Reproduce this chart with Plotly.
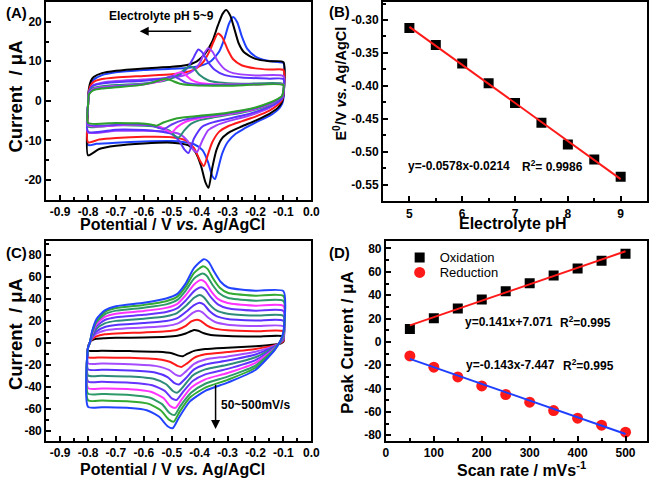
import plotly.graph_objects as go

W, H = 661, 480
FONT = "Liberation Sans, Arial, Helvetica, sans-serif"

# ---------------- Panel A : CVs at different pH (V, I in uA) ----------------
A_LABELS = ["pH 5", "pH 5.5", "pH 6", "pH 6.5", "pH 7", "pH 7.5", "pH 8", "pH 8.5", "pH 9"]
A_COLORS = ["#2040FF", "#000000", "#FF1A1A", "#A040FF", "#5A32FF",
            "#2A8C74", "#FF33FF", "#6A3CF0", "#2DA02D"]

A_PH50 = [(-0.8, -0.5), (-0.797, 2.5), (-0.79, 4.2), (-0.78, 5.3), (-0.75, 6.5), (-0.7, 7.2),
          (-0.6, 7.8), (-0.5, 8.1), (-0.45, 8.3), (-0.4, 8.8), (-0.36, 10), (-0.33, 12.5),
          (-0.31, 16), (-0.295, 19.5), (-0.28, 21.2), (-0.265, 19.8), (-0.25, 16.5),
          (-0.23, 13.2), (-0.2, 11.2), (-0.16, 10.2), (-0.12, 9.8), (-0.1, 9.6),
          (-0.1, 0.5), (-0.105, -0.8), (-0.12, -2.3), (-0.15, -3.8), (-0.2, -5.5),
          (-0.24, -7), (-0.27, -8.3), (-0.3, -10.5), (-0.32, -13.5), (-0.335, -17.5),
          (-0.345, -19.8), (-0.355, -19), (-0.37, -15.5), (-0.39, -12.5), (-0.42, -11),
          (-0.46, -10.4), (-0.5, -10.2), (-0.6, -10.3), (-0.7, -10.6), (-0.77, -10.9),
          (-0.8, -11.2)]
A_PH55 = [(-0.8, -1), (-0.797, 3), (-0.79, 5), (-0.78, 6), (-0.75, 7), (-0.7, 7.6),
          (-0.6, 8.2), (-0.5, 8.6), (-0.45, 9.0), (-0.41, 10), (-0.38, 12), (-0.355, 15),
          (-0.335, 19), (-0.318, 22), (-0.305, 23), (-0.29, 21.5), (-0.275, 18),
          (-0.26, 14.5), (-0.24, 12.2), (-0.2, 10.6), (-0.15, 10), (-0.1, 9.8),
          (-0.1, 1.2), (-0.105, -0.3), (-0.12, -1.8), (-0.15, -3.3), (-0.2, -5),
          (-0.25, -6.5), (-0.29, -7.8), (-0.32, -9.5), (-0.34, -12.5), (-0.355, -17),
          (-0.368, -22), (-0.38, -20.5), (-0.395, -16.5), (-0.415, -13), (-0.44, -11.3),
          (-0.5, -10.6), (-0.6, -10.8), (-0.7, -11.4), (-0.76, -12.2), (-0.8, -13.8)]
A_PH60 = [(-0.8, -1), (-0.797, 2.5), (-0.79, 4), (-0.78, 4.8), (-0.75, 5.5), (-0.7, 5.9),
          (-0.6, 6.3), (-0.5, 6.7), (-0.45, 7.2), (-0.41, 8.3), (-0.385, 10), (-0.365, 12.5),
          (-0.35, 15), (-0.335, 17), (-0.32, 16.2), (-0.3, 13), (-0.28, 10.5), (-0.25, 9),
          (-0.2, 8.2), (-0.15, 7.9), (-0.1, 7.8),
          (-0.1, 1.5), (-0.105, 0.2), (-0.12, -1), (-0.15, -2.5), (-0.2, -4), (-0.25, -5.2),
          (-0.3, -6.5), (-0.33, -7.8), (-0.355, -10.5), (-0.37, -13.5), (-0.385, -16.5),
          (-0.4, -15), (-0.42, -12), (-0.45, -10), (-0.5, -9.2), (-0.6, -9.1), (-0.7, -9.4),
          (-0.76, -9.8), (-0.8, -10.5)]
A_PH65 = [(-0.8, -1), (-0.797, 2), (-0.79, 3.3), (-0.78, 4), (-0.75, 4.6), (-0.7, 5),
          (-0.6, 5.4), (-0.5, 5.9), (-0.45, 6.6), (-0.42, 7.8), (-0.4, 9.5), (-0.385, 11.8),
          (-0.37, 13.3), (-0.355, 12.5), (-0.335, 10), (-0.31, 8), (-0.28, 7), (-0.2, 6.4),
          (-0.1, 6.2),
          (-0.1, 1.8), (-0.105, 0.5), (-0.12, -0.5), (-0.15, -1.8), (-0.2, -3.2),
          (-0.25, -4.3), (-0.3, -5.2), (-0.34, -6.2), (-0.37, -7.5), (-0.39, -10),
          (-0.41, -13), (-0.425, -12.2), (-0.445, -10), (-0.47, -8.5), (-0.52, -7.8),
          (-0.6, -7.6), (-0.7, -7.6), (-0.8, -8)]
A_PH70 = [(-0.8, -1), (-0.797, 2), (-0.79, 3.2), (-0.78, 3.9), (-0.75, 4.4), (-0.7, 4.7),
          (-0.6, 5.1), (-0.52, 5.7), (-0.47, 6.7), (-0.445, 8.2), (-0.425, 10.5),
          (-0.405, 13), (-0.39, 12.2), (-0.37, 9.8), (-0.345, 7.8), (-0.31, 6.5),
          (-0.25, 5.9), (-0.15, 5.6), (-0.1, 5.5),
          (-0.1, 2), (-0.105, 0.6), (-0.12, -0.3), (-0.15, -1.5), (-0.2, -2.8),
          (-0.25, -3.8), (-0.3, -4.6), (-0.35, -5.4), (-0.39, -6.5), (-0.42, -9.5),
          (-0.44, -13.2), (-0.455, -12.3), (-0.475, -10), (-0.5, -8.4), (-0.55, -7.7),
          (-0.6, -7.4), (-0.7, -7.3), (-0.8, -7.8)]
A_PH75 = [(-0.8, -1), (-0.797, 1.8), (-0.79, 2.8), (-0.78, 3.3), (-0.75, 3.7), (-0.7, 4),
          (-0.6, 4.4), (-0.53, 5), (-0.49, 6), (-0.46, 7.6), (-0.435, 8.8), (-0.42, 8.2),
          (-0.4, 6.5), (-0.37, 5.2), (-0.33, 4.6), (-0.25, 4.3), (-0.1, 4.3),
          (-0.1, 2.5), (-0.105, 1), (-0.12, 0.2), (-0.15, -1), (-0.2, -2.2), (-0.25, -3),
          (-0.3, -3.6), (-0.35, -4.2), (-0.4, -4.9), (-0.43, -5.8), (-0.455, -7.5),
          (-0.475, -9.3), (-0.49, -8.8), (-0.51, -7.5), (-0.55, -6.6), (-0.6, -6.3),
          (-0.7, -6.2), (-0.8, -6.5)]
A_PH80 = [(-0.8, -1), (-0.797, 1.6), (-0.79, 2.5), (-0.78, 3), (-0.75, 3.4), (-0.7, 3.7),
          (-0.6, 4.2), (-0.54, 5), (-0.5, 6.2), (-0.48, 7), (-0.465, 7.2), (-0.45, 6.5),
          (-0.43, 5.3), (-0.4, 4.5), (-0.35, 4.2), (-0.2, 4.1), (-0.1, 4.1),
          (-0.1, 2.5), (-0.105, 1), (-0.12, 0.3), (-0.15, -0.8), (-0.2, -2), (-0.25, -2.8),
          (-0.3, -3.4), (-0.35, -3.9), (-0.4, -4.4), (-0.45, -5.3), (-0.48, -6.6),
          (-0.5, -8), (-0.515, -7.6), (-0.535, -6.8), (-0.57, -6.2), (-0.65, -6),
          (-0.8, -6.2)]
A_PH85 = [(-0.8, -1), (-0.797, 1.6), (-0.79, 2.4), (-0.78, 2.9), (-0.75, 3.3), (-0.7, 3.6),
          (-0.6, 4.2), (-0.55, 5), (-0.52, 5.8), (-0.495, 6.3), (-0.475, 5.6), (-0.45, 4.6),
          (-0.4, 4.1), (-0.3, 4), (-0.1, 4),
          (-0.1, 2.5), (-0.105, 1), (-0.12, 0.3), (-0.15, -0.7), (-0.2, -1.9), (-0.3, -3.2),
          (-0.4, -4.1), (-0.46, -4.9), (-0.5, -6), (-0.53, -7.2), (-0.55, -6.8),
          (-0.58, -6.2), (-0.65, -5.9), (-0.8, -6)]
A_PH90 = [(-0.8, -1), (-0.797, 1.5), (-0.79, 2.2), (-0.78, 2.7), (-0.75, 3.1), (-0.7, 3.4),
          (-0.62, 3.9), (-0.57, 4.6), (-0.54, 5.3), (-0.52, 5.6), (-0.5, 5.1), (-0.47, 4.3),
          (-0.42, 3.9), (-0.3, 3.8), (-0.1, 4),
          (-0.1, 2.8), (-0.105, 1.2), (-0.12, 0.5), (-0.15, -0.5), (-0.2, -1.7), (-0.3, -3),
          (-0.4, -3.8), (-0.48, -4.4), (-0.53, -5.5), (-0.555, -6.3), (-0.575, -6),
          (-0.62, -5.7), (-0.7, -5.6), (-0.8, -5.6)]
A_CURVES = [A_PH50, A_PH55, A_PH60, A_PH65, A_PH70, A_PH75, A_PH80, A_PH85, A_PH90]

# ---------------- Panel B : E0 vs pH ----------------
B_PH = [5, 5.5, 6, 6.5, 7, 7.5, 8, 8.5, 9]
B_E0 = [-0.312, -0.338, -0.366, -0.396, -0.426, -0.456, -0.489, -0.512, -0.538]
B_FIT_X = [5, 9]
B_FIT_Y = [-0.3104, -0.5416]

# ---------------- Panel C : CVs at different scan rates ----------------
C_LABELS = ["50", "100", "150", "200", "250", "300", "350", "400", "450", "500"]
C_COLORS = ["#000000", "#FF1A1A", "#A64CFF", "#5A32FF", "#2E8B7A",
            "#6633FF", "#FF33FF", "#2E9A6A", "#33AA33", "#2244FF"]

C_050 = [(-0.8, -4), (-0.795, 0), (-0.785, 2.5), (-0.77, 3.8), (-0.74, 4.3), (-0.7, 4.6),
         (-0.6, 5), (-0.52, 5.6), (-0.48, 6.5), (-0.45, 8.5), (-0.43, 10.8), (-0.42, 11.7),
         (-0.405, 11), (-0.385, 8.8), (-0.36, 7.2), (-0.3, 6.2), (-0.2, 5.8), (-0.1, 6),
         (-0.1, 1), (-0.11, -0.5), (-0.13, -1.5), (-0.2, -3), (-0.3, -4.3), (-0.38, -5.5),
         (-0.42, -7.2), (-0.445, -10), (-0.46, -12), (-0.475, -11.5), (-0.5, -9.3),
         (-0.55, -8), (-0.65, -7.4), (-0.75, -7.1), (-0.8, -7)]
C_100 = [(-0.8, -4), (-0.794, 0), (-0.785, 3.5), (-0.77, 6), (-0.74, 7.8), (-0.7, 8.6),
         (-0.6, 9.5), (-0.52, 10.5), (-0.48, 12), (-0.45, 15.5), (-0.43, 19.5), (-0.41, 21),
         (-0.395, 19.8), (-0.375, 16), (-0.35, 13.2), (-0.3, 11.5), (-0.2, 10.6), (-0.1, 10.5),
         (-0.1, 2), (-0.11, 0), (-0.13, -2), (-0.2, -5.5), (-0.3, -8.3), (-0.38, -10.3),
         (-0.42, -13.5), (-0.445, -18.5), (-0.465, -21.7), (-0.48, -20.8), (-0.505, -17.3),
         (-0.55, -14.8), (-0.65, -13.5), (-0.75, -13.1), (-0.8, -13)]
C_150 = [(-0.8, -4), (-0.794, 0), (-0.785, 4.5), (-0.77, 8.3), (-0.74, 11.3), (-0.7, 12.6),
         (-0.6, 14), (-0.52, 15.4), (-0.48, 17.5), (-0.45, 22), (-0.425, 27.3), (-0.405, 29.3),
         (-0.39, 27.8), (-0.37, 23), (-0.345, 19), (-0.3, 16.6), (-0.2, 15.3), (-0.1, 15),
         (-0.1, 3), (-0.11, 0.5), (-0.13, -2.5), (-0.2, -8), (-0.3, -12.2), (-0.38, -15),
         (-0.42, -19), (-0.45, -26), (-0.47, -30), (-0.485, -29), (-0.51, -24.5),
         (-0.56, -20.8), (-0.65, -19.3), (-0.75, -18.7), (-0.8, -18.5)]
C_200 = [(-0.8, -4), (-0.794, 0), (-0.785, 5.5), (-0.77, 10.5), (-0.74, 14.5), (-0.7, 16.3),
         (-0.6, 18), (-0.52, 19.8), (-0.48, 22.5), (-0.45, 28), (-0.42, 34.3), (-0.4, 36.5),
         (-0.385, 34.8), (-0.365, 29), (-0.34, 24.3), (-0.3, 21.7), (-0.2, 20.3), (-0.1, 20),
         (-0.1, 4), (-0.11, 0.8), (-0.13, -3), (-0.2, -10.5), (-0.3, -16), (-0.38, -19.5),
         (-0.42, -24), (-0.45, -32), (-0.475, -37.7), (-0.49, -36.5), (-0.515, -31),
         (-0.56, -26.8), (-0.65, -25), (-0.75, -24.3), (-0.8, -24)]
C_250 = [(-0.8, -4), (-0.794, 0), (-0.785, 6.5), (-0.77, 12.8), (-0.74, 17.8), (-0.7, 20),
         (-0.6, 22), (-0.52, 24.2), (-0.48, 27.3), (-0.45, 33.5), (-0.42, 41), (-0.4, 43.5),
         (-0.385, 41.5), (-0.365, 35), (-0.34, 29.5), (-0.3, 26.5), (-0.2, 24.8), (-0.1, 24.5),
         (-0.1, 5), (-0.11, 1), (-0.13, -3.5), (-0.2, -13), (-0.3, -19.8), (-0.38, -24),
         (-0.425, -29.5), (-0.455, -38.5), (-0.48, -45), (-0.495, -43.8), (-0.52, -37.5),
         (-0.565, -32.5), (-0.65, -30.5), (-0.75, -29.8), (-0.8, -29.5)]
C_300 = [(-0.8, -4), (-0.794, 0), (-0.785, 7.5), (-0.77, 15), (-0.74, 20.8), (-0.7, 23.3),
         (-0.6, 25.5), (-0.52, 28), (-0.48, 31.5), (-0.45, 38.5), (-0.42, 47), (-0.395, 50.5),
         (-0.38, 48.5), (-0.36, 41.5), (-0.335, 35), (-0.3, 31.5), (-0.2, 29.3), (-0.1, 29),
         (-0.1, 6), (-0.11, 1.2), (-0.13, -4), (-0.2, -15.5), (-0.3, -23.5), (-0.38, -28.5),
         (-0.425, -34.5), (-0.46, -44.5), (-0.483, -51.7), (-0.5, -50.3), (-0.525, -43.5),
         (-0.57, -38.3), (-0.65, -36), (-0.75, -35.3), (-0.8, -35)]
C_350 = [(-0.8, -4), (-0.794, 0), (-0.785, 8.5), (-0.77, 17), (-0.74, 23.6), (-0.7, 26.5),
         (-0.6, 29), (-0.52, 31.8), (-0.48, 35.5), (-0.45, 43.3), (-0.42, 53), (-0.395, 57),
         (-0.38, 55), (-0.36, 47.3), (-0.335, 40), (-0.3, 36.2), (-0.2, 33.8), (-0.1, 33.5),
         (-0.1, 7), (-0.11, 1.5), (-0.13, -4.5), (-0.2, -18), (-0.3, -27.2), (-0.38, -33),
         (-0.43, -40.5), (-0.465, -51.5), (-0.487, -58.9), (-0.505, -57.3), (-0.53, -50),
         (-0.575, -44.3), (-0.65, -42), (-0.75, -41.3), (-0.8, -41)]
C_400 = [(-0.8, -4), (-0.794, 0), (-0.785, 9.5), (-0.77, 18.8), (-0.74, 26), (-0.7, 29.3),
         (-0.6, 32), (-0.52, 35), (-0.48, 39), (-0.45, 47.5), (-0.42, 58.5), (-0.39, 63),
         (-0.375, 61), (-0.355, 53), (-0.33, 45), (-0.3, 41), (-0.2, 38.3), (-0.1, 38),
         (-0.1, 8), (-0.11, 1.8), (-0.13, -5), (-0.2, -20.5), (-0.3, -30.5), (-0.38, -37),
         (-0.43, -45), (-0.47, -57.5), (-0.49, -65.4), (-0.508, -63.5), (-0.535, -55.5),
         (-0.58, -49.5), (-0.65, -47.2), (-0.75, -46.3), (-0.8, -46)]
C_450 = [(-0.8, -4), (-0.794, 0), (-0.785, 10.3), (-0.77, 20.3), (-0.74, 28), (-0.7, 31.6),
         (-0.6, 34.5), (-0.52, 37.8), (-0.48, 42), (-0.45, 51), (-0.42, 63.5), (-0.388, 69.5),
         (-0.372, 67.2), (-0.352, 58.5), (-0.328, 50), (-0.3, 45.5), (-0.2, 42.8), (-0.1, 42.5),
         (-0.1, 9), (-0.11, 2), (-0.13, -5.5), (-0.2, -22.5), (-0.3, -33.5), (-0.38, -40.5),
         (-0.435, -49.5), (-0.472, -62.5), (-0.493, -71.4), (-0.51, -69.5), (-0.54, -61),
         (-0.585, -55), (-0.65, -53), (-0.75, -52.3), (-0.8, -52)]
C_500 = [(-0.8, -4), (-0.794, 0), (-0.785, 11), (-0.77, 21.5), (-0.74, 29.5), (-0.7, 33.3),
         (-0.6, 36.5), (-0.52, 40.3), (-0.48, 44.5), (-0.45, 54), (-0.42, 68), (-0.385, 76),
         (-0.368, 73.5), (-0.348, 64.5), (-0.325, 55.5), (-0.3, 50.5), (-0.2, 47.3), (-0.1, 47),
         (-0.1, 10), (-0.11, 2.3), (-0.13, -6), (-0.2, -24.5), (-0.3, -36), (-0.38, -43.5),
         (-0.435, -53), (-0.475, -68), (-0.497, -77.4), (-0.515, -75.5), (-0.545, -67),
         (-0.59, -61), (-0.65, -59), (-0.75, -58.3), (-0.8, -58)]
C_CURVES = [C_050, C_100, C_150, C_200, C_250, C_300, C_350, C_400, C_450, C_500]

# ---------------- Panel D : peak current vs scan rate ----------------
D_RATE = [50, 100, 150, 200, 250, 300, 350, 400, 450, 500]
D_OX = [11.1, 20.3, 28.6, 36.3, 43.4, 50.3, 56.9, 62.9, 69.4, 75.4]
D_RED = [-12.0, -21.7, -30.0, -37.7, -45.1, -51.7, -58.9, -65.4, -71.4, -77.4]
D_FIT_X = [50, 500]
D_OX_FIT = [14.1, 77.6]
D_RED_FIT = [-14.6, -78.9]

# ---------------- tick labels ----------------
POT_TICKS = [-0.9, -0.8, -0.7, -0.6, -0.5, -0.4, -0.3, -0.2, -0.1, 0.0]
POT_TEXT = ["-0.9", "-0.8", "-0.7", "-0.6", "-0.5", "-0.4", "-0.3", "-0.2", "-0.1", "0.0"]
A_YTICKS = [-20, -10, 0, 10, 20]
A_YTEXT = ["-20", "-10", "0", "10", "20"]
B_XTICKS = [5, 6, 7, 8, 9]
B_XTEXT = ["5", "6", "7", "8", "9"]
B_YTICKS = [-0.55, -0.50, -0.45, -0.40, -0.35, -0.30]
B_YTEXT = ["-0.55", "-0.50", "-0.45", "-0.40", "-0.35", "-0.30"]
C_YTICKS = [-80, -60, -40, -20, 0, 20, 40, 60, 80]
C_YTEXT = ["-80", "-60", "-40", "-20", "0", "20", "40", "60", "80"]
D_XTICKS = [0, 100, 200, 300, 400, 500]
D_XTEXT = ["0", "100", "200", "300", "400", "500"]
D_YTICKS = [-80, -60, -40, -20, 0, 20, 40, 60, 80]
D_YTEXT = ["-80", "-60", "-40", "-20", "0", "20", "40", "60", "80"]


def px_x(p):
    return p / W


def px_y(p):
    return 1 - p / H


fig = go.Figure()


def add_loop(pts, color, name, xa, ya):
    xs = [p[0] for p in pts] + [pts[0][0]]
    ys = [p[1] for p in pts] + [pts[0][1]]
    fig.add_trace(go.Scatter(x=xs, y=ys, mode="lines", name=name, showlegend=False,
                             line=dict(color=color, width=2, shape="spline", smoothing=0.6),
                             xaxis=xa, yaxis=ya, hoverinfo="skip"))


for pts, col, nm in zip(A_CURVES, A_COLORS, A_LABELS):
    add_loop(pts, col, nm, "x", "y")

fig.add_trace(go.Scatter(x=B_PH, y=B_E0, mode="markers", showlegend=False,
                         marker=dict(symbol="square", size=10, color="black"),
                         xaxis="x2", yaxis="y2"))
fig.add_trace(go.Scatter(x=B_FIT_X, y=B_FIT_Y, mode="lines", showlegend=False,
                         line=dict(color="#FF1A1A", width=2), xaxis="x2", yaxis="y2"))

for pts, col, nm in zip(C_CURVES, C_COLORS, C_LABELS):
    add_loop(pts, col, nm, "x3", "y3")

fig.add_trace(go.Scatter(x=D_RATE, y=D_OX, mode="markers", name="Oxidation", legend="legend",
                         marker=dict(symbol="square", size=10, color="black"),
                         xaxis="x4", yaxis="y4"))
fig.add_trace(go.Scatter(x=D_RATE, y=D_RED, mode="markers", name="Reduction", legend="legend2",
                         marker=dict(symbol="circle", size=11, color="#FF1A1A"),
                         xaxis="x4", yaxis="y4"))
fig.add_trace(go.Scatter(x=D_FIT_X, y=D_OX_FIT, mode="lines", showlegend=False,
                         line=dict(color="#FF1A1A", width=2), xaxis="x4", yaxis="y4"))
fig.add_trace(go.Scatter(x=D_FIT_X, y=D_RED_FIT, mode="lines", showlegend=False,
                         line=dict(color="#1F3FFF", width=2), xaxis="x4", yaxis="y4"))

tickfont = dict(family=FONT, size=12, color="black")


def axis(domain, rng, tv, tt, anchor, mdt):
    return dict(domain=domain, range=rng, anchor=anchor, tickmode="array",
                tickvals=tv, ticktext=["<b>%s</b>" % t for t in tt], ticks="inside",
                ticklen=5, tickwidth=1.5,
                tickcolor="black", showline=True, linecolor="black", linewidth=2,
                mirror=True, showgrid=False, zeroline=False, tickfont=tickfont,
                minor=dict(tickmode="linear", tick0=tv[0], dtick=mdt, ticks="inside",
                           ticklen=3, tickwidth=1.5, tickcolor="black", showgrid=False))


def legend_at(x, y):
    return dict(x=px_x(x), y=px_y(y), xanchor="left", yanchor="middle",
                font=dict(family=FONT, size=13, color="black"),
                bgcolor="rgba(0,0,0,0)", itemwidth=30)


AX_L, AX_R = px_x(44), px_x(314)
fig.update_layout(
    width=W, height=H, margin=dict(l=0, r=0, t=0, b=0),
    paper_bgcolor="white", plot_bgcolor="white",
    xaxis=axis([AX_L, AX_R], [-0.95, 0.0], POT_TICKS, POT_TEXT, "y", 0.05),
    yaxis=axis([px_y(200), px_y(2)], [-25, 25], A_YTICKS, A_YTEXT, "x", 5),
    xaxis2=axis([px_x(387), px_x(656)], [4.5, 9.5], B_XTICKS, B_XTEXT, "y2", 0.5),
    yaxis2=axis([px_y(201.7), px_y(2)], [-0.5753, -0.2727], B_YTICKS, B_YTEXT, "x2", 0.025),
    xaxis3=axis([AX_L, AX_R], [-0.95, 0.0], POT_TICKS, POT_TEXT, "y3", 0.05),
    yaxis3=axis([px_y(442), px_y(242)], [-89, 92], C_YTICKS, C_YTEXT, "x3", 10),
    xaxis4=axis([px_x(390), px_x(656)], [0, 545], D_XTICKS, D_XTEXT, "y4", 50),
    yaxis4=axis([px_y(442), px_y(242)], [-85, 86], D_YTICKS, D_YTEXT, "x4", 10),
    legend=legend_at(404, 258),
    legend2=legend_at(404, 273),
)

ann = []


def text(x, y, s, size, xanchor="center", angle=0, bold=True):
    ann.append(dict(x=px_x(x), y=px_y(y), xref="paper", yref="paper",
                    text=("<b>%s</b>" % s) if bold else s,
                    showarrow=False, xanchor=xanchor, yanchor="middle", textangle=angle,
                    font=dict(family=FONT, size=size, color="black")))


# panel labels
text(1, 13, "(A)", 15, "left")
text(330, 12, "(B)", 15, "left")
text(1, 253, "(C)", 15, "left")
text(330, 253, "(D)", 15, "left")
# axis titles
text(173, 225, "Potential / V <i>vs.</i> Ag/AgCl", 16)
text(173, 470, "Potential / V <i>vs.</i> Ag/AgCl", 16)
text(13, 97, "Current  / μA", 18.5, angle=-90)
text(13, 335, "Current  / μA", 18.5, angle=-90)
text(519, 224, "Electrolyte pH", 16)
text(343, 84, "E<sup>0</sup>/V <i>vs.</i> Ag/AgCl", 14.5, angle=-90)
text(528, 470, "Scan rate / mVs<sup>-1</sup>", 16)
text(351, 343, "Peak Current / μA", 17, angle=-90)
# equations
text(410, 166, "y=-0.0578x-0.0214", 12, "left")
text(527, 166, "R<sup>2</sup>= 0.9986", 12, "left")
text(468, 323, "y=0.141x+7.071", 12, "left")
text(565, 323, "R<sup>2</sup>=0.995", 12, "left")
text(470, 366, "y=-0.143x-7.447", 12, "left")
text(568, 366, "R<sup>2</sup>=0.995", 12, "left")
# arrow labels
text(161, 16, "Electrolyte pH 5~9", 12)
text(257, 406, "50~500mV/s", 12)

# arrows (data coordinates)
ann.append(dict(x=-0.615, y=17.6, ax=-0.425, ay=17.6, xref="x", yref="y", axref="x", ayref="y",
                showarrow=True, arrowhead=2, arrowsize=1.2, arrowwidth=1.5, arrowcolor="black",
                text=""))
ann.append(dict(x=-0.343, y=-78, ax=-0.343, ay=-36.5, xref="x3", yref="y3", axref="x3",
                ayref="y3", showarrow=True, arrowhead=2, arrowsize=1.2, arrowwidth=1.5,
                arrowcolor="black", text=""))

fig.update_layout(annotations=ann)
fig.write_html("out.html", config={"displayModeBar": False})
